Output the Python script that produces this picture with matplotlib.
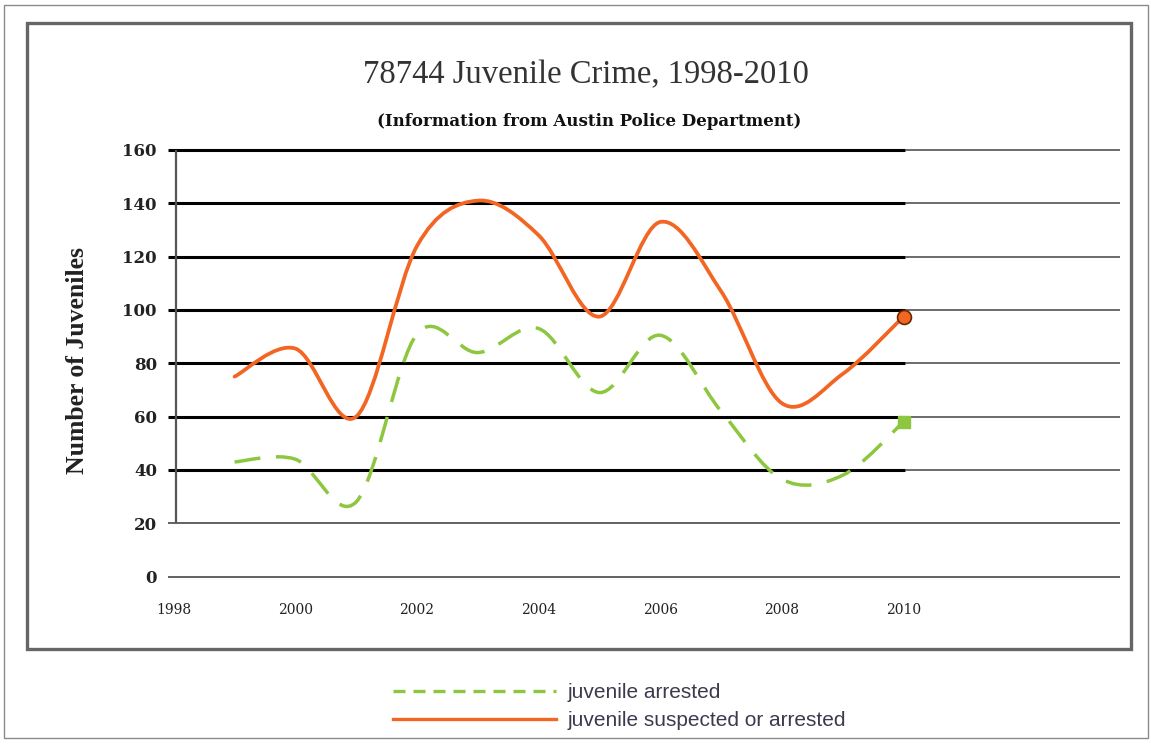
import numpy as np
import matplotlib
matplotlib.use("Agg")
import matplotlib.pyplot as plt
from matplotlib.path import Path
from matplotlib.patches import PathPatch, Rectangle
from matplotlib.lines import Line2D

# Data
years = [1999, 2000, 2001, 2002, 2003, 2004, 2005, 2006, 2007, 2008, 2009, 2010]
suspected = [75, 85.5, 60, 124, 141, 128, 97.5, 133, 107, 65, 76, 97.5]
arrested = [43, 44, 28, 91, 84, 93, 69, 90.5, 62, 36.5, 38, 58]
y_ticks = [0, 20, 40, 60, 80, 100, 120, 140, 160]
x_ticks = [1998, 2000, 2002, 2004, 2006, 2008, 2010]

ORANGE = "#F26522"
GREEN = "#8DC63F"


def smooth_path(xs, ys):
    # Catmull-Rom style curve through the points, drawn as Bezier segments
    pts = np.column_stack([xs, ys]).astype(float)
    ext = np.vstack([pts[0], pts, pts[-1]])
    verts = [pts[0]]
    codes = [Path.MOVETO]
    for i in range(len(pts) - 1):
        p0, p1, p2, p3 = ext[i], ext[i + 1], ext[i + 2], ext[i + 3]
        verts += [p1 + (p2 - p0) / 6, p2 - (p3 - p1) / 6, p2]
        codes += [Path.CURVE4] * 3
    return Path(verts, codes)


W, H = 1151, 745
fig = plt.figure(figsize=(W / 100, H / 100), dpi=100)

# frames
fig.add_artist(Rectangle((4 / W, 1 - 738 / H), 1144 / W, 733 / H, transform=fig.transFigure,
                         fill=False, edgecolor="#8a8a8a", lw=1))
fig.add_artist(Rectangle((27 / W, 1 - 649 / H), (1131 - 27) / W, (649 - 23) / H,
                         transform=fig.transFigure, fill=False, edgecolor="#666666", lw=2.4))

ax = fig.add_axes([168 / W, 1 - 579.2 / H, (1120 - 168) / W, (579.2 - 147.3) / H])
x0, x1 = 1997.905, 2013.56
ax.set_xlim(x0, x1)
ax.set_ylim(-1, 161)
for s in ax.spines.values():
    s.set_visible(False)

# grid lines
thick = [v for v in y_ticks if v >= 40]
ax.hlines(thick, x0, 2010.03, color="black", lw=2.2, zorder=1)
ax.hlines(thick, 2010.03, x1, color="#444444", lw=1.1, zorder=1)
ax.hlines([0, 20], x0, x1, color="#555555", lw=1.3, zorder=1)
ax.vlines(1998.03, 20, 160, color="#555555", lw=1.6, zorder=1)

ax.set_yticks(y_ticks)
ax.set_yticklabels([str(v) for v in y_ticks], family="DejaVu Serif", fontweight="bold",
                   fontsize=12, color="#222222")
ax.set_xticks(x_ticks)
ax.set_xticklabels([str(v) for v in x_ticks], family="DejaVu Serif", fontsize=10,
                   color="#222222")
ax.tick_params(axis="y", length=0, pad=8)
ax.tick_params(axis="x", length=0, pad=17)

# series
ax.add_patch(PathPatch(smooth_path(years, arrested), fill=False, edgecolor=GREEN, lw=2.5,
                       linestyle=(0, (7.5, 4.5)), zorder=3))
ax.add_patch(PathPatch(smooth_path(years, suspected), fill=False, edgecolor=ORANGE, lw=2.7,
                       capstyle="round", zorder=4))
ax.plot(years[-1], arrested[-1], "s", ms=8, color=GREEN, zorder=5)
ax.plot(years[-1], suspected[-1], "o", ms=10, mfc=ORANGE, mec="#6a2a00", mew=1.2, zorder=5)

# titles
fig.text(586 / W, 1 - 75 / H, "78744 Juvenile Crime, 1998-2010", ha="center", va="center",
         family="Liberation Serif", fontsize=23.5, color="#333333")
fig.text(589 / W, 1 - 121 / H, "(Information from Austin Police Department)", ha="center",
         va="center", family="DejaVu Serif", fontweight="bold", fontsize=12,
         color="#111111")
fig.text(78 / W, 1 - 361 / H, "Number of Juveniles", rotation=90, ha="center", va="center",
         family="Liberation Serif", fontweight="bold", fontsize=18.5, color="#222222")

# legend
handles = [Line2D([], [], color=GREEN, lw=2.4, linestyle=(0, (3.6, 2.4))),
           Line2D([], [], color=ORANGE, lw=2.4)]
fig.legend(handles, ["juvenile arrested", "juvenile suspected or arrested"],
           loc="upper left", bbox_to_anchor=(393 / W, 1 - 683 / H), frameon=False,
           prop={"family": "Liberation Sans", "size": 15}, labelcolor="#3b3b4f",
           handlelength=7.8, handletextpad=0.6, borderpad=0, borderaxespad=0,
           labelspacing=0.45)

fig.savefig("out.png", dpi=100)
